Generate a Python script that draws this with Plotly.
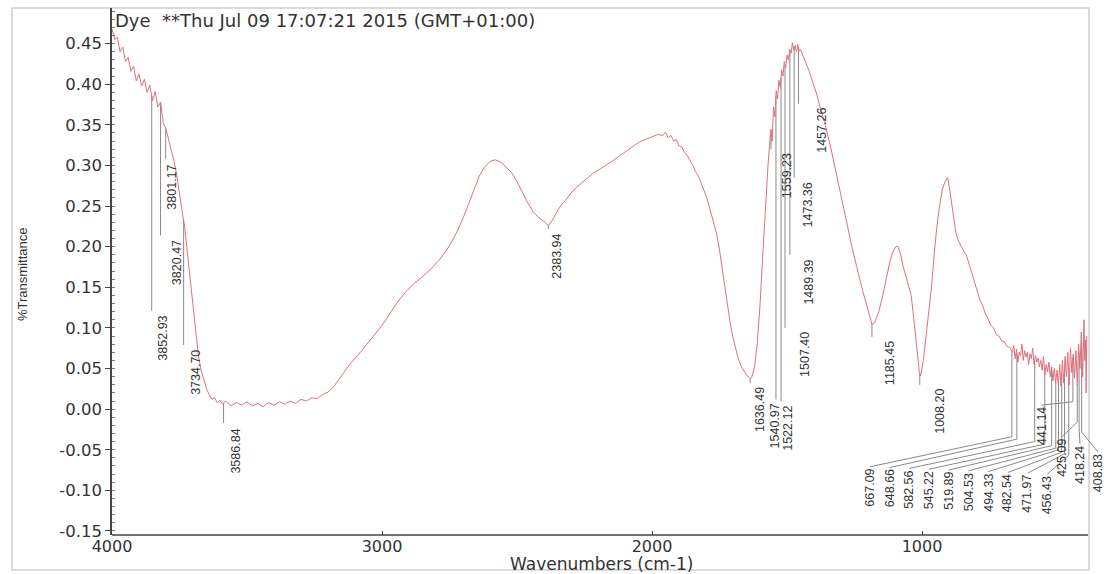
import numpy as np
import plotly.graph_objects as go

# ---------------- spectrum ----------------
wavenumber = [
    4000, 3990, 3980, 3970, 3960, 3950, 3940, 3930, 3920, 3910,
    3900, 3890, 3880, 3870, 3860, 3850, 3840, 3830, 3820, 3810,
    3800, 3790, 3780, 3770, 3760, 3750, 3740, 3730, 3720, 3710,
    3700, 3690, 3680, 3670, 3660, 3650, 3640, 3630, 3620, 3610,
    3600, 3590, 3580, 3560, 3540, 3520, 3500, 3480, 3460, 3440,
    3420, 3400, 3380, 3360, 3340, 3320, 3300, 3280, 3260, 3240,
    3220, 3200, 3180, 3160, 3140, 3120, 3090, 3060, 3030, 3000,
    2970, 2940, 2910, 2880, 2850, 2820, 2790, 2760, 2730, 2700,
    2680, 2660, 2640, 2620, 2600, 2580, 2560, 2540, 2520, 2500,
    2480, 2460, 2440, 2420, 2400, 2384, 2370, 2355, 2340, 2320,
    2300, 2280, 2260, 2240, 2220, 2200, 2180, 2160, 2140, 2120,
    2100, 2080, 2060, 2040, 2020, 2000, 1980, 1960, 1950, 1940,
    1930, 1920, 1910, 1900, 1890, 1880, 1870, 1860, 1850, 1840,
    1830, 1820, 1810, 1800, 1790, 1780, 1770, 1760, 1750, 1740,
    1730, 1720, 1710, 1700, 1690, 1680, 1670, 1660, 1650, 1640,
    1636, 1630, 1620, 1610, 1600, 1590, 1580, 1570, 1560, 1555,
    1550, 1545, 1540, 1535, 1530, 1525, 1520, 1515, 1510, 1505,
    1500, 1495, 1490, 1485, 1480, 1475, 1470, 1465, 1460, 1455,
    1450, 1440, 1430, 1420, 1410, 1400, 1390, 1380, 1360, 1340,
    1320, 1300, 1280, 1260, 1240, 1220, 1200, 1185, 1175, 1160,
    1150, 1140, 1130, 1120, 1110, 1100, 1090, 1080, 1070, 1060,
    1050, 1040, 1030, 1020, 1010, 1005, 995, 985, 975, 965,
    955, 945, 935, 925, 915, 905, 895, 885, 875, 865,
    855, 845, 835, 825, 815, 805, 795, 785, 775, 765,
    755, 745, 735, 725, 715, 705, 695, 685, 675, 665,
    660, 655, 650, 645, 640, 635, 630, 625, 620, 615,
    610, 605, 600, 595, 590, 585, 580, 575, 570, 565,
    560, 555, 550, 545, 540, 535, 530, 525, 520, 515,
    510, 505, 500, 495, 490, 485, 480, 475, 470, 465,
    460, 455, 450, 445, 440, 435, 430, 425, 420, 415,
    410, 405, 400, 397, 394, 392, 390,
]
transmittance = [
    .468, .455, .458, .440, .446, .428, .433, .416, .422, .404,
    .412, .398, .406, .390, .399, .380, .391, .372, .378, .352,
    .345, .330, .318, .305, .288, .265, .245, .222, .190, .160,
    .125, .092, .066, .048, .035, .025, .018, .012, .014, .008,
    .011, .006, .010, .004, .008, .005, .009, .004, .007, .003,
    .008, .005, .009, .006, .010, .007, .012, .010, .014, .013,
    .018, .021, .027, .036, .046, .055, .066, .078, .090, .103,
    .118, .133, .145, .155, .163, .172, .183, .196, .213, .235,
    .252, .270, .287, .298, .305, .307, .304, .298, .291, .280,
    .266, .254, .243, .236, .231, .226, .232, .242, .250, .257,
    .266, .273, .279, .285, .290, .294, .298, .302, .307, .312,
    .317, .322, .326, .330, .333, .336, .338, .337, .341, .334,
    .337, .330, .332, .324, .323, .316, .313, .306, .301, .293,
    .288, .280, .272, .263, .252, .240, .228, .215, .196, .173,
    .149, .126, .105, .088, .073, .062, .053, .047, .042, .039,
    .037, .040, .052, .082, .128, .188, .248, .302, .345, .330,
    .372, .360, .392, .382, .405, .396, .418, .410, .428, .420,
    .436, .430, .443, .438, .451, .442, .448, .440, .449, .441,
    .443, .435, .428, .418, .408, .398, .388, .375, .352, .325,
    .295, .265, .232, .200, .172, .146, .122, .104, .107, .120,
    .133, .150, .165, .180, .192, .199, .201, .192, .176, .164,
    .155, .140, .110, .075, .046, .041, .060, .090, .120, .150,
    .190, .225, .250, .270, .280, .285, .265, .240, .218, .207,
    .200, .194, .189, .178, .168, .155, .146, .134, .127, .117,
    .111, .103, .100, .092, .090, .084, .083, .077, .076, .070,
    .078, .062, .074, .058, .070, .066, .080, .060, .072, .064,
    .070, .055, .068, .062, .075, .055, .066, .058, .063, .052,
    .060, .048, .065, .042, .055, .046, .058, .040, .052, .035,
    .050, .032, .048, .030, .055, .028, .060, .032, .065, .040,
    .070, .030, .075, .045, .068, .038, .072, .030, .080, .050,
    .095, .040, .110, .060, .085, .020, .090,
]

# ---------------- peak labels ----------------
peak_text = [
    "3852.93", "3820.47", "3801.17", "3734.70", "3586.84", "2383.94",
    "1636.49", "1559.23", "1540.97", "1522.12", "1507.40", "1489.39",
    "1473.36", "1457.26", "1185.45", "1008.20",
    "667.09", "648.66", "582.56", "545.22", "519.89", "504.53",
    "494.33", "482.54", "471.97", "456.43",
    "441.14", "425.09", "418.24", "408.83",
]
peak_wn = [float(t) for t in peak_text]
# where each marker line ends (transmittance units)
peak_line_end = [
    0.121, 0.214, 0.308, 0.079, -0.017, 0.222,
    0.032, 0.320, 0.012, 0.010, 0.100, 0.190,
    0.285, 0.376, 0.089, 0.030,
    -0.034, -0.037, -0.040, -0.043, -0.045, -0.048,
    -0.050, -0.053, -0.055, -0.057,
    0.009, -0.016, -0.022, -0.028,
]
# label anchor (centre of the rotated text, top edge)
label_wn = [
    3811, 3759, 3778, 3689, 3541, 2352,
    1600, 1500, 1544, 1496, 1433, 1422,
    1422, 1370, 1119, 933,
    1193, 1120, 1047, 974, 901, 828,
    755, 682, 609, 536,
    556, 481, 415, 348,
]
label_top = [
    0.117, 0.210, 0.304, 0.076, -0.021, 0.219,
    0.029, 0.317, 0.009, 0.006, 0.097, 0.186,
    0.281, 0.373, 0.086, 0.027,
    -0.071, -0.072, -0.073, -0.074, -0.075, -0.076,
    -0.077, -0.078, -0.079, -0.080,
    0.005, -0.034, -0.043, -0.053,
]
label_leader = [False] * 16 + [True] * 14

x_tick_values = [4000, 3000, 2000, 1000]
x_tick_text = ["4000", "3000", "2000", "1000"]
y_tick_values = [-0.15, -0.10, -0.05, 0.00, 0.05, 0.10, 0.15, 0.20, 0.25, 0.30, 0.35, 0.40, 0.45]
y_tick_text = ["-0.15", "-0.10", "-0.05", "0.00", "0.05", "0.10", "0.15", "0.20",
               "0.25", "0.30", "0.35", "0.40", "0.45"]

title_text = "Dye&nbsp; **Thu Jul 09 17:07:21 2015 (GMT+01:00)"
x_title = "Wavenumbers (cm-1)"
y_title = "%Transmittance"

# ---------------- figure ----------------
W, H = 1109, 574
L, R, T, B = 112, 2, 8, 39
plot_w = W - L - R
plot_h = H - T - B
XR = [4000, 4000 - plot_w / 0.27]
YR = [-0.155, 0.4939]


def px_x(p):
    return (p - L) / plot_w


def px_y(p):
    return (H - B - p) / plot_h


wn_arr = np.array(wavenumber, dtype=float)
tr_arr = np.array(transmittance, dtype=float)
curve_at = np.interp(peak_wn, wn_arr[::-1], tr_arr[::-1])

lx, ly = [], []
for i, w in enumerate(peak_wn):
    lx += [w, w]
    ly += [curve_at[i], peak_line_end[i]]
    if label_leader[i]:
        lx += [label_wn[i]]
        ly += [label_top[i]]
    lx.append(None)
    ly.append(None)

fig = go.Figure()
fig.add_trace(go.Scatter(x=lx, y=ly, mode="lines",
                         line=dict(color="#8a8a8a", width=1),
                         hoverinfo="skip", showlegend=False))
fig.add_trace(go.Scatter(x=wavenumber, y=transmittance, mode="lines",
                         line=dict(color="#e0707c", width=1),
                         showlegend=False))

annotations = []
for i, t in enumerate(peak_text):
    annotations.append(dict(x=label_wn[i], y=label_top[i], xref="x", yref="y",
                            text=t, textangle=-90, showarrow=False,
                            xanchor="center", yanchor="top",
                            font=dict(family="Liberation Sans", size=12.5, color="#333")))
annotations.append(dict(x=px_x(113), y=px_y(20), xref="paper", yref="paper",
                        text=title_text, showarrow=False, xanchor="left", yanchor="middle",
                        font=dict(family="DejaVu Sans", size=18, color="#333")))
annotations.append(dict(x=px_x(601), y=px_y(564), xref="paper", yref="paper",
                        text=x_title, showarrow=False, xanchor="center", yanchor="middle",
                        font=dict(family="DejaVu Sans", size=17, color="#333")))
annotations.append(dict(x=px_x(22), y=px_y(275), xref="paper", yref="paper",
                        text=y_title, textangle=-90, showarrow=False,
                        xanchor="center", yanchor="middle",
                        font=dict(family="Liberation Sans", size=13, color="#333")))

shapes = [
    # outer light frame
    dict(type="rect", xref="paper", yref="paper",
         x0=px_x(12), x1=px_x(1089), y0=px_y(570), y1=px_y(8),
         line=dict(color="#cfcfcf", width=1.5), layer="below"),
    # bottom axis line
    dict(type="line", xref="x", yref="paper", x0=4000, x1=385, y0=0, y1=0,
         line=dict(color="#444", width=1.5)),
]

fig.update_layout(
    width=W, height=H,
    margin=dict(l=L, r=R, t=T, b=B),
    paper_bgcolor="white", plot_bgcolor="white",
    annotations=annotations, shapes=shapes,
    xaxis=dict(range=XR, showgrid=False, zeroline=False, showline=False,
               tickmode="array", tickvals=x_tick_values, ticktext=x_tick_text,
               ticks="inside", ticklen=4, tickcolor="#444",
               tickfont=dict(family="DejaVu Sans", size=16, color="#333")),
    yaxis=dict(range=YR, showgrid=False, zeroline=False, showline=True,
               linecolor="#444", linewidth=1.5,
               tickmode="array", tickvals=y_tick_values, ticktext=y_tick_text,
               ticks="outside", ticklen=5, tickcolor="#444",
               tickfont=dict(family="DejaVu Sans", size=16.5, color="#333"),
               minor=dict(tickmode="linear", tick0=0, dtick=0.01, ticks="inside",
                          ticklen=3, tickcolor="#777")),
)

fig.write_html("out.html")
